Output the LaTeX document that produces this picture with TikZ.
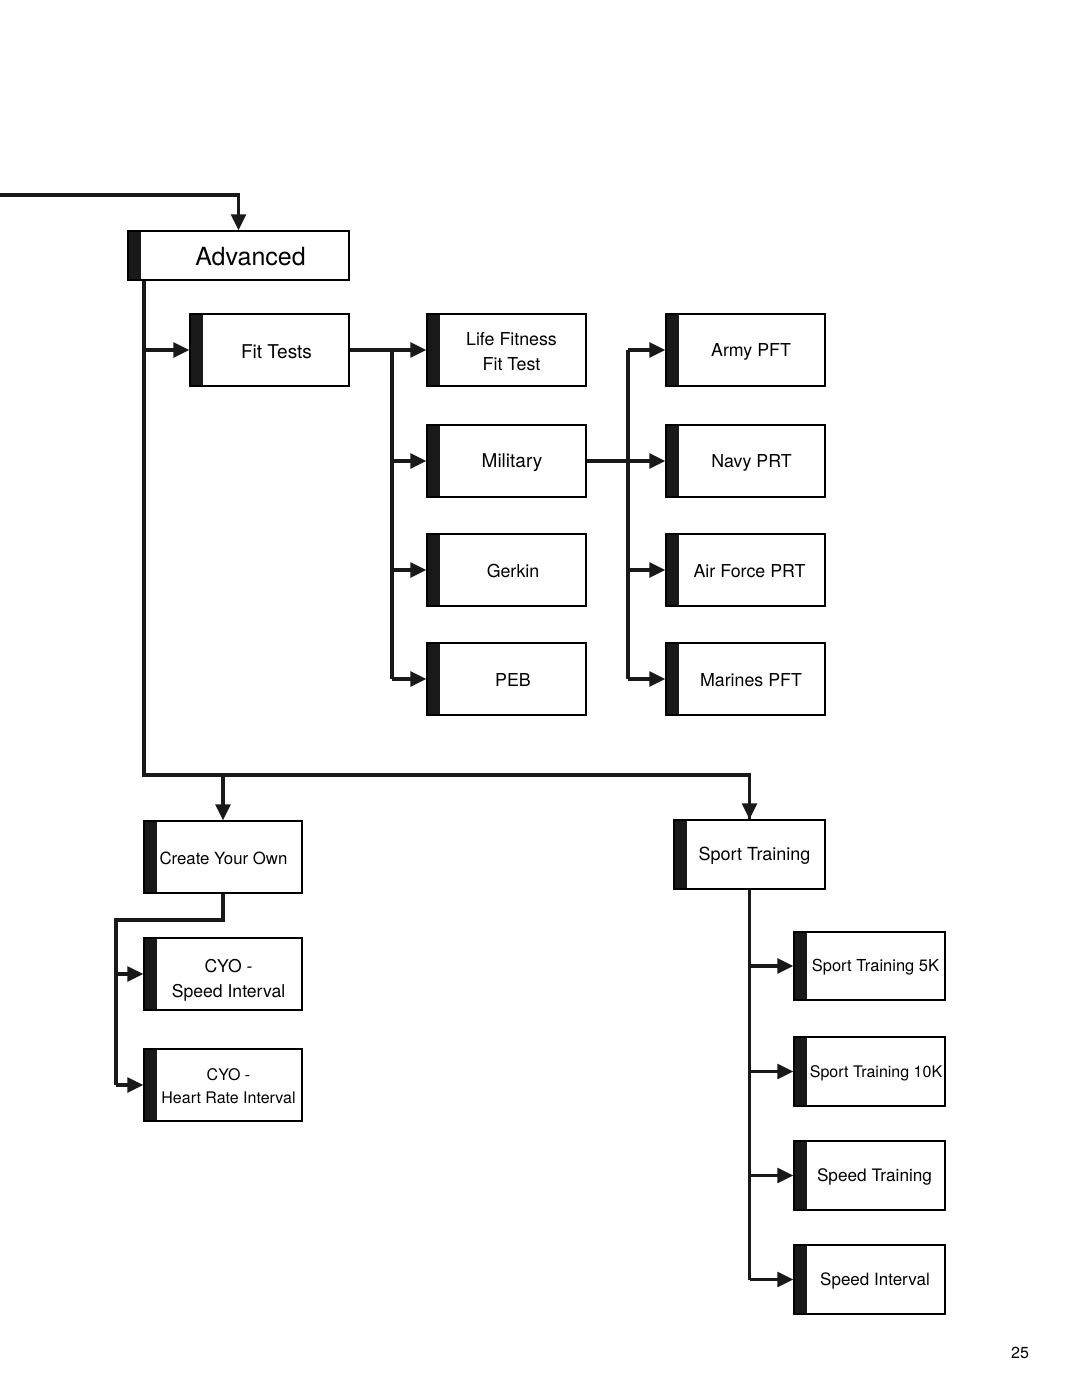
\documentclass[tikz,border=0pt]{standalone}
\usepackage{fontspec}
\setmainfont{TeX Gyre Heros}
\usetikzlibrary{arrows.meta,calc}
\tikzset{
  boxshape/.style={draw=black, line width=1.5pt, inner sep=0pt, fill=white,
    path picture={\fill[black!90] (path picture bounding box.north west) rectangle ([xshift=12.5pt]path picture bounding box.south west);}},
  lbl/.style={align=center, inner sep=0pt},
  conn/.style={line width=3.2pt, black!90},
  arr/.style={conn, -{Triangle[length=16pt,width=15pt]}}
}
\newcommand\fs[2]{\fontsize{#1pt}{#2pt}\selectfont}
% \bx{name}{x1}{y1}{x2}{y2}{font}{text}{text x-offset}
\newcommand\bx[8]{%
  \node[boxshape, minimum width={(#4-#2)*1pt}, minimum height={(#5-#3)*1pt}] (#1) at ({(#2+#4)/2},{(#3+#5)/2}) {};
  \node[lbl, font=#6] (#1-t) at ([xshift=#8pt, yshift=-1.5pt]#1.center) {#7};}
\begin{document}
\begin{tikzpicture}[x=1pt,y=-1pt]
\useasboundingbox (0,0) rectangle (1080,1397);
% boxes
\bx{adv}{128}{231}{349}{280}{\fs{25}{30}}{Advanced}{12}
\bx{fit}{190}{314}{349}{386}{\fs{19}{24}}{Fit Tests}{7}
\bx{life}{427}{314}{586}{386}{\fs{17.8}{25}}{Life Fitness\\Fit Test}{5}
\bx{mil}{427}{425}{586}{497}{\fs{19}{24}}{Military}{5.5}
\bx{ger}{427}{534}{586}{606}{\fs{17.8}{24}}{Gerkin}{6.5}
\bx{peb}{427}{643}{586}{715}{\fs{17.8}{24}}{PEB}{6.5}
\bx{army}{666}{314}{825}{386}{\fs{17.8}{24}}{Army PFT}{5.5}
\bx{navy}{666}{425}{825}{497}{\fs{17.8}{24}}{Navy PRT}{6}
\bx{air}{666}{534}{825}{606}{\fs{17.8}{24}}{Air Force PRT}{4}
\bx{mar}{666}{643}{825}{715}{\fs{17.8}{24}}{Marines PFT}{5.5}
\bx{cyo}{144}{821}{302}{893}{\fs{16.8}{24}}{Create Your Own}{0.5}
\bx{csi}{144}{938}{302}{1010}{\fs{17.6}{25}}{\rule{0pt}{0pt}\\[-2pt]CYO -\\Speed Interval}{5.5}
\bx{chr}{144}{1049}{302}{1121}{\fs{16}{23}}{CYO -\\Heart Rate Interval}{5.5}
\bx{sport}{674}{820}{825}{889}{\fs{18}{24}}{Sport Training}{5}
\bx{s5}{794}{932}{945}{1000}{\fs{16.5}{24}}{Sport Training 5K}{6}
\bx{s10}{794}{1037}{945}{1106}{\fs{16}{24}}{Sport Training 10K}{6.5}
\bx{spt}{794}{1141}{945}{1210}{\fs{17.2}{24}}{Speed Training}{5}
\bx{spi}{794}{1245}{945}{1314}{\fs{17}{24}}{Speed Interval}{5.5}
\node[font=\fs{16}{20}, inner sep=0pt] (pg) at (1020,1353) {25};
% connectors
\coordinate (start) at (0,195);
\draw[arr] (start) -| (adv.north);
\coordinate (jA) at (144,775);
\draw[conn] (jA |- adv.south) -- (jA) -| (sport.north);
\draw[arr] (jA -| sport.north) -- (sport.north);
\draw[arr] (jA -| cyo.north) -- (cyo.north);
\draw[arr] (jA |- fit.west) -- (fit.west);
% fit tests
\coordinate (b1) at (392,350);
\draw[arr] (fit.east) -- (life.west);
\draw[conn] (b1 |- life.west) -- (b1 |- peb.west);
\draw[arr] (b1 |- mil.west) -- (mil.west);
\draw[arr] (b1 |- ger.west) -- (ger.west);
\draw[arr] (b1 |- peb.west) -- (peb.west);
% military
\coordinate (b2) at (628,350);
\draw[arr] (mil.east) -- (navy.west);
\draw[conn] (b2 |- army.west) -- (b2 |- mar.west);
\draw[arr] (b2 |- army.west) -- (army.west);
\draw[arr] (b2 |- air.west) -- (air.west);
\draw[arr] (b2 |- mar.west) -- (mar.west);
% create your own
\coordinate (b3) at (116,920);
\draw[conn] (cyo.south) |- (b3) -- (b3 |- chr.west);
\draw[arr] (b3 |- csi.west) -- (csi.west);
\draw[arr] (b3 |- chr.west) -- (chr.west);
% sport training
\draw[conn] (sport.south) -- (sport.south |- spi.west);
\draw[arr] (sport.south |- s5.west) -- (s5.west);
\draw[arr] (sport.south |- s10.west) -- (s10.west);
\draw[arr] (sport.south |- spt.west) -- (spt.west);
\draw[arr] (sport.south |- spi.west) -- (spi.west);
\end{tikzpicture}
\end{document}
